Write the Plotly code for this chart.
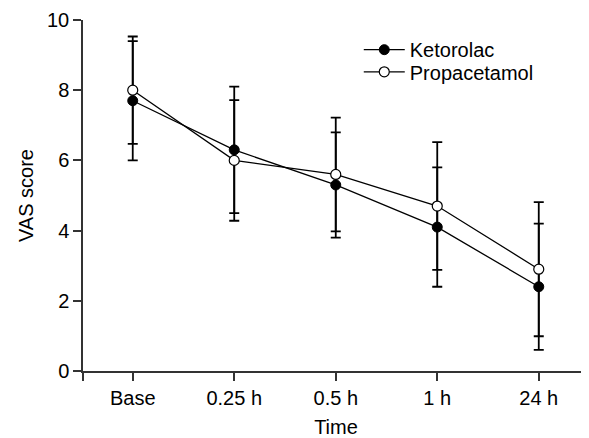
import plotly.graph_objects as go

categories = ["Base", "0.25 h", "0.5 h", "1 h", "24 h"]
ketorolac_mean = [7.7, 6.3, 5.3, 4.1, 2.4]
ketorolac_sd = [1.7, 1.8, 1.5, 1.7, 1.8]
propacetamol_mean = [8.0, 6.0, 5.6, 4.7, 2.9]
propacetamol_sd = [1.53, 1.72, 1.62, 1.82, 1.91]
y_ticks = [0, 2, 4, 6, 8, 10]

xpos = list(range(len(categories)))
FONT = "Liberation Sans, Arial, sans-serif"
FS = 20

fig = go.Figure()
fig.add_trace(go.Scatter(
    x=xpos, y=ketorolac_mean, name="Ketorolac", mode="lines+markers",
    line=dict(color="black", width=1.3),
    marker=dict(symbol="circle", size=10, color="black", line=dict(color="black", width=1)),
    error_y=dict(type="data", array=ketorolac_sd, visible=True, color="black", thickness=1.8, width=5),
    legend="legend",
))
fig.add_trace(go.Scatter(
    x=xpos, y=propacetamol_mean, name="Propacetamol", mode="lines+markers",
    line=dict(color="black", width=1.3),
    marker=dict(symbol="circle", size=10, color="white", line=dict(color="black", width=1.2)),
    error_y=dict(type="data", array=propacetamol_sd, visible=True, color="black", thickness=1.8, width=5),
    legend="legend2",
))

leg_common = dict(xanchor="left", yanchor="top", font=dict(size=FS),
                  bgcolor="rgba(0,0,0,0)", itemwidth=41)

fig.update_layout(
    width=581, height=430,
    margin=dict(l=75, r=0, t=12, b=67),
    plot_bgcolor="white", paper_bgcolor="white",
    font=dict(family=FONT, size=FS, color="black"),
    showlegend=True,
    legend=dict(x=0.545, y=0.971, **leg_common),
    legend2=dict(x=0.545, y=0.908, **leg_common),
    xaxis=dict(
        range=[-0.49, 4.495], tickmode="array",
        tickvals=[-0.49] + xpos, ticktext=[""] + categories,
        ticks="outside", ticklen=8, tickcolor="#333", tickwidth=1.5,
        showline=True, linecolor="#333", linewidth=1.5,
        showgrid=False, zeroline=False,
        title=dict(text="Time", font=dict(size=FS), standoff=12),
        tickfont=dict(size=FS),
    ),
    yaxis=dict(
        range=[0, 10], tickmode="array", tickvals=y_ticks,
        ticks="outside", ticklen=8, tickcolor="#333", tickwidth=1.5,
        showline=True, linecolor="#333", linewidth=1.5,
        showgrid=False, zeroline=False,
        title=dict(text="VAS score", font=dict(size=FS), standoff=8),
        tickfont=dict(size=FS),
    ),
)

fig.write_html("out.html")
